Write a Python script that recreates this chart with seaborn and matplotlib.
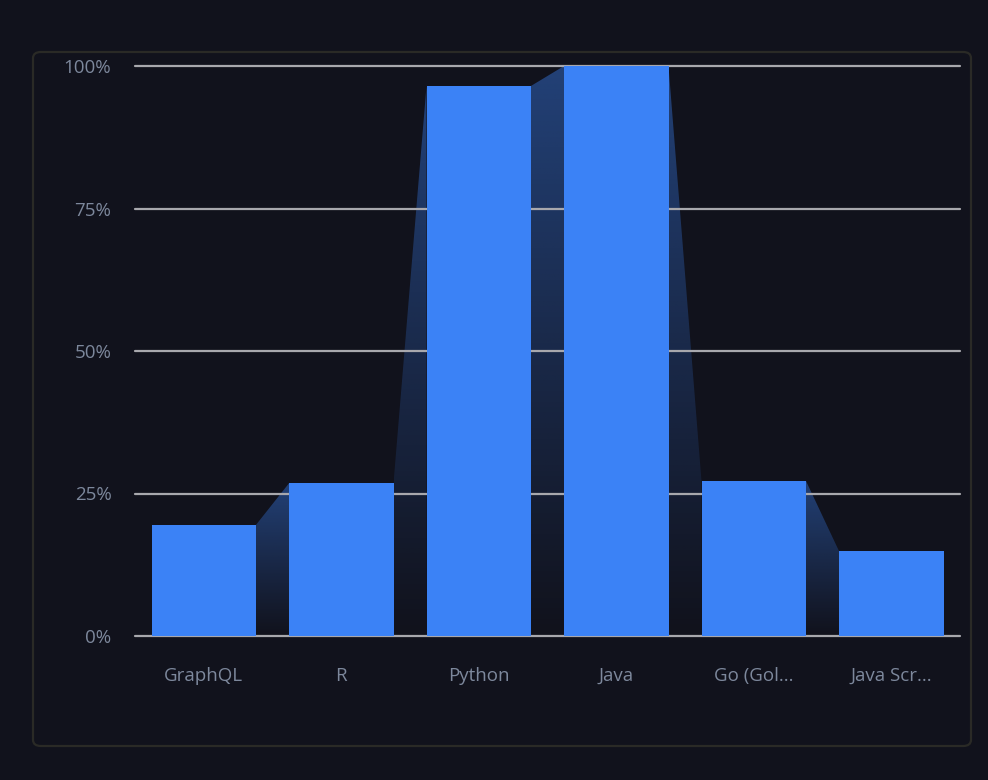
import numpy as np
import pandas as pd
import matplotlib
matplotlib.use("Agg")
import matplotlib.pyplot as plt
import seaborn as sns
from matplotlib.patches import FancyBboxPatch, Polygon

categories = ["GraphQL", "R", "Python", "Java", "Go (Gol...", "Java Scr..."]
values = [19.5, 26.8, 96.5, 100.0, 27.2, 14.9]
y_ticks = [0, 25, 50, 75, 100]
y_tick_labels = ["0%", "25%", "50%", "75%", "100%"]

BG = "#11121c"
BAR = "#3b82f6"
TXT = "#7d889c"
GRID = "#a8a8ad"

sns.set_theme(style="white")
plt.rcParams["font.family"] = ["Open Sans", "DejaVu Sans"]

fig = plt.figure(figsize=(9.88, 7.8), dpi=100, facecolor=BG)
W, H = 988, 780

# panel border
panel = FancyBboxPatch((33 / W, 1 - 746 / H), (971 - 33) / W, (746 - 52) / H,
                       boxstyle="round,pad=0,rounding_size=0.008",
                       transform=fig.transFigure, facecolor="none",
                       edgecolor="#2a2a26", linewidth=1.6, zorder=-5)
fig.patches.append(panel)

ax = fig.add_axes([135 / W, 1 - 636 / H, (960 - 135) / W, (636 - 66) / H])
ax.set_facecolor("none")
ax.set_zorder(2)

df = pd.DataFrame({"cat": categories, "val": values})
bw = 0.76
sns.barplot(data=df, x="cat", y="val", color=BAR, saturation=1, width=bw,
            ax=ax, zorder=3, edgecolor="none")

ax.set_xlim(-0.5, len(categories) - 0.5)
ax.set_ylim(0, 100)

# gradient connectors between bars
rgb = matplotlib.colors.to_rgb(BAR)
grad = np.zeros((256, 1, 4))
grad[..., 0], grad[..., 1], grad[..., 2] = rgb
grad[:, 0, 3] = np.linspace(0.42, 0.0, 256)
for i in range(len(values) - 1):
    x0 = i + bw / 2
    x1 = i + 1 - bw / 2
    h0, h1 = values[i], values[i + 1]
    top = max(h0, h1)
    poly = Polygon([(x0, 0), (x0, h0), (x1, h1), (x1, 0)], closed=True,
                   facecolor="none", edgecolor="none", transform=ax.transData)
    ax.add_patch(poly)
    im = ax.imshow(grad, extent=[x0, x1, 0, top], aspect="auto",
                   origin="upper", zorder=1, interpolation="bilinear")
    im.set_clip_path(poly)

ax.set_xlim(-0.5, len(categories) - 0.5)
ax.set_ylim(0, 100)

for t in y_ticks:
    ax.axhline(t, color=GRID, lw=1.6, zorder=2, clip_on=False)

ax.set_yticks(y_ticks)
ax.set_yticklabels(y_tick_labels)
ax.tick_params(axis="y", length=0, pad=17, labelsize=13.5, labelcolor=TXT)
ax.tick_params(axis="x", length=0, pad=22, labelsize=13.5, labelcolor=TXT)
ax.set_xlabel("")
ax.set_ylabel("")
for s in ax.spines.values():
    s.set_visible(False)
ax.grid(False)

fig.savefig("out.png", dpi=100, facecolor=BG)
